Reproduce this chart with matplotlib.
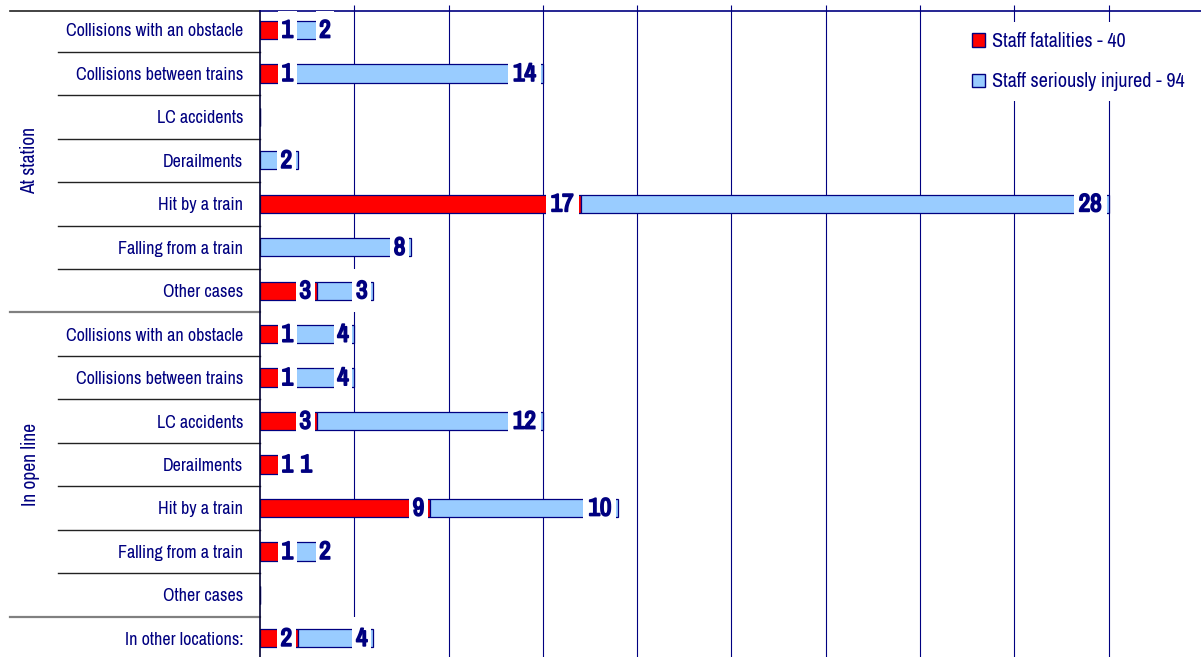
import matplotlib
matplotlib.use('Agg')
import matplotlib.pyplot as plt
import matplotlib.patheffects as pe
from matplotlib.patches import Rectangle, Patch
from matplotlib.transforms import blended_transform_factory

plt.rcParams['font.family'] = ['Archivo Narrow', 'Liberation Sans', 'DejaVu Sans']

# data
categories = ['Collisions with an obstacle', 'Collisions between trains', 'LC accidents',
              'Derailments', 'Hit by a train', 'Falling from a train', 'Other cases',
              'Collisions with an obstacle', 'Collisions between trains', 'LC accidents',
              'Derailments', 'Hit by a train', 'Falling from a train', 'Other cases',
              'In other locations:']
fatalities = [1, 1, 0, 0, 17, 0, 3, 1, 1, 3, 1, 9, 1, 0, 2]
injured = [2, 14, 0, 2, 28, 8, 3, 4, 4, 12, 1, 10, 2, 0, 4]
groups = ['At station', 'In open line']
group_rows = [(0, 6), (7, 13)]
legend_labels = ['Staff fatalities - 40', 'Staff seriously injured - 94']

navy = '#000080'
red = '#FF0000'
blue = '#99CCFF'

fig = plt.figure(figsize=(12.01, 6.57), dpi=100)
W, H = 1201, 657
ax = fig.add_axes([260 / W, 0, 941 / W, 1 - 11 / H])

ypos = list(range(len(categories)))
ax.barh(ypos, fatalities, height=0.42, color=red, edgecolor=navy, linewidth=0.9, zorder=2)
ax.barh(ypos, injured, left=fatalities, height=0.42, color=blue, edgecolor=navy,
        linewidth=0.9, zorder=2)

# value labels with white boxes (excel style)
bold = [pe.withStroke(linewidth=1.3, foreground=navy)]
for i in ypos:
    prev_right = 0
    start = 0
    for v in (fatalities[i], injured[i]):
        if v == 0:
            continue
        end = start + v
        w = 1.0 if v < 10 else 1.75
        left = end - 0.1 - w
        if left < max(start, prev_right) - 0.02:
            left = end - 0.05
        ax.add_patch(Rectangle((left, i - 0.5), w, 1.0, facecolor='white',
                               edgecolor='none', zorder=3))
        ax.text(left + w / 2, i, str(v), ha='center', va='center', fontsize=18,
                color=navy, zorder=4, path_effects=bold)
        prev_right = left + w
        start = end

ax.set_xlim(0, 49.9)
ax.set_ylim(14.43, -0.437)
ax.set_xticks(range(5, 50, 5))
ax.xaxis.tick_top()
ax.tick_params(axis='x', direction='out', length=4.5, color=navy, labeltop=False,
               labelbottom=False, width=0.8)
ax.grid(axis='x', color=navy, linewidth=0.8)
ax.set_axisbelow(True)

ax.set_yticks(ypos)
ax.set_yticklabels(categories, fontsize=13, color=navy)
ax.tick_params(axis='y', length=0, pad=12)

for s in ['right', 'bottom']:
    ax.spines[s].set_visible(False)
ax.spines['top'].set_color(navy)
ax.spines['top'].set_linewidth(1.2)
ax.spines['left'].set_color('#000033')
ax.spines['left'].set_linewidth(1.2)

# multi level category lines on the left
trans = blended_transform_factory(ax.transAxes, ax.transData)
x_in = (58 - 260) / 941
x_out = (10 - 260) / 941
for b in range(14):
    y = b + 0.5
    if b in (6, 13):
        ax.plot([x_out, 0], [y, y], color='#808080', linewidth=1.6, transform=trans,
                clip_on=False)
    else:
        ax.plot([x_in, 0], [y, y], color='#222222', linewidth=1.0, transform=trans,
                clip_on=False)
ax.plot([x_out, 0], [1, 1], color='#222222', linewidth=1.2, transform=ax.transAxes,
        clip_on=False)

for g, (a, b) in zip(groups, group_rows):
    ax.text((30 - 260) / 941, (a + b) / 2, g, rotation=90, ha='center', va='center',
            fontsize=14, color=navy, transform=trans)

handles = [Patch(facecolor=red, edgecolor=navy, linewidth=1.0),
           Patch(facecolor=blue, edgecolor=navy, linewidth=1.0)]
leg = ax.legend(handles, legend_labels, loc='upper left',
                bbox_to_anchor=(962 / W, 1 - 22 / H), bbox_transform=fig.transFigure,
                fontsize=14.5, frameon=True, fancybox=False, framealpha=1,
                handlelength=0.62, handleheight=0.62, handletextpad=0.35,
                labelspacing=1.05, borderpad=0.5, borderaxespad=0)
leg.get_frame().set_edgecolor('none')
leg.get_frame().set_facecolor('white')
for t in leg.get_texts():
    t.set_color(navy)
leg.set_zorder(6)

fig.savefig('out.png', dpi=100)
